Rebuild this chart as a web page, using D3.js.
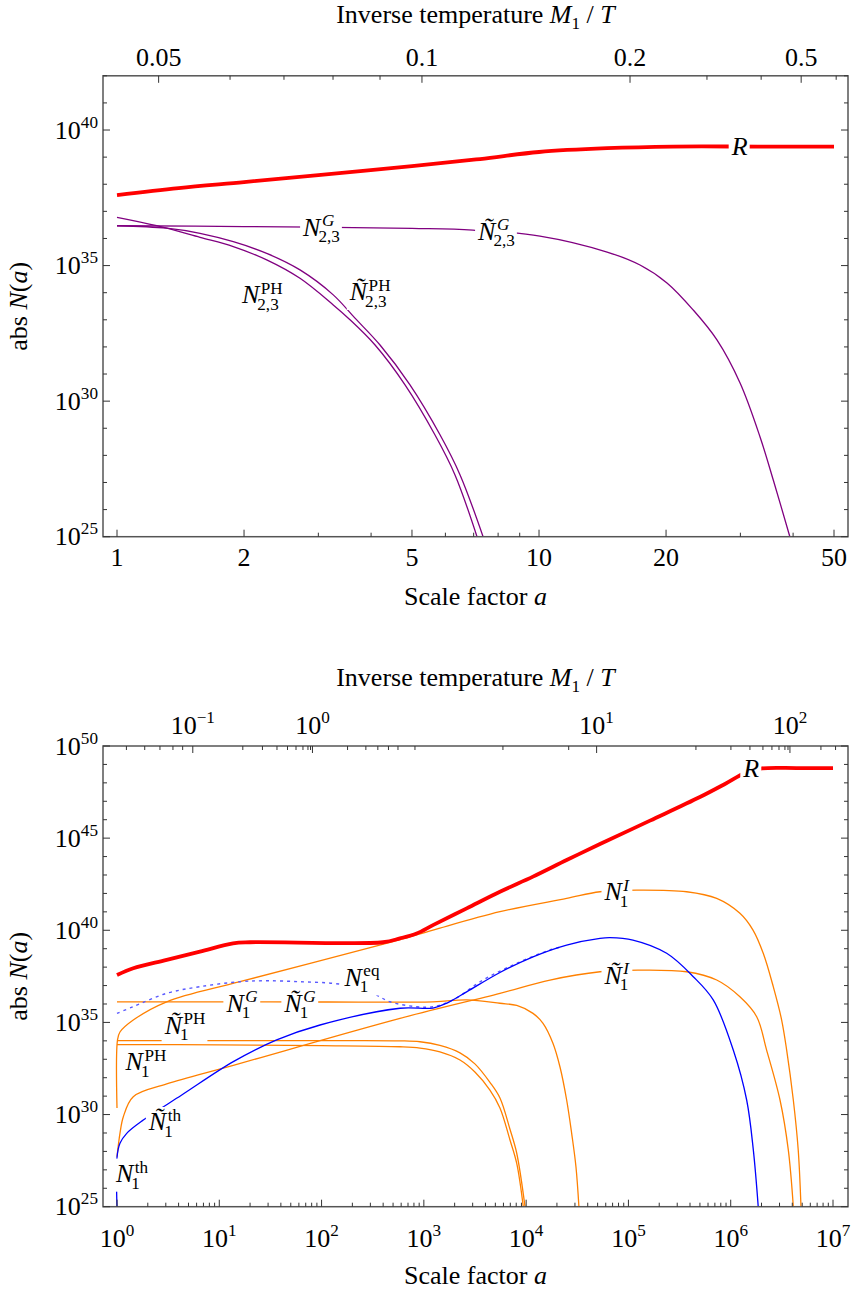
<!DOCTYPE html>
<html><head><meta charset="utf-8">
<script src="https://cdn.jsdelivr.net/npm/d3@7"></script>
<style>
body{margin:0;background:#fff}
svg{display:block}
text{font-family:"Liberation Serif","Times New Roman",serif;fill:#000}
</style></head><body>
<svg id="c" width="852" height="1293"></svg>
<script>
// ================= DATA =================
// ---- Top panel: scale factor a (linear values), log10 of abs N ----
const topR_a      = [1, 1.4, 2, 3, 5, 7.25, 10, 14.5, 20.8, 33, 50];
const topR_logN   = [37.60, 37.86, 38.08, 38.34, 38.67, 38.93, 39.19, 39.33, 39.39, 39.39, 39.39];

const topNG_a     = [1, 2, 5, 6.97, 10.05, 14.5, 17.35, 20.1, 23.2, 26.4, 29.95, 33.4, 35.9, 39.3];
const topNG_logN  = [36.47, 36.44, 36.37, 36.31, 36.09, 35.50, 35.02, 34.36, 33.36, 32.26, 30.67, 28.68, 27.09, 25.0];

const topNPH_a    = [1, 1.242, 1.573, 1.886, 2.263, 2.714, 3.254, 3.533, 4.088, 4.814, 5.670, 6.323, 7.13];
const topNPH_logN = [36.78, 36.47, 36.04, 35.70, 35.21, 34.53, 33.55, 33.06, 32.07, 30.60, 28.75, 27.28, 25.0];

const topNtPH_a    = [1, 1.311, 1.573, 1.886, 2.263, 2.714, 3.254, 3.664, 4.20, 4.946, 5.83, 6.50, 7.37];
const topNtPH_logN = [36.47, 36.38, 36.19, 35.88, 35.45, 34.84, 33.92, 33.06, 32.07, 30.60, 28.75, 27.28, 25.0];

// top-panel upper axis: inverse temperature z = M1/T and the scale factor a where it sits
const topTemp_z     = [0.05, 0.06, 0.07, 0.08, 0.09, 0.1, 0.2, 0.3, 0.4, 0.5, 0.6];
const topTemp_a     = [1.255, 1.853, 2.487, 3.25, 4.20, 5.28, 16.43, 25.0, 33.6, 41.8, 50.6];
const topTemp_label = ["0.05", "", "", "", "", "0.1", "0.2", "", "", "0.5", ""];

const topX_ticks  = [1, 2, 3, 4, 5, 6, 7, 8, 9, 10, 20, 30, 40, 50];
const topX_labels = ["1", "2", "", "", "5", "", "", "", "", "10", "20", "", "", "50"];

// ---- Bottom panel: log10 a, log10 abs N ----
const botR_la     = [0, 0.159, 0.486, 0.811, 1.134, 1.30, 2.60, 2.767, 2.930, 3.089, 3.419, 3.744, 4.067, 4.396, 4.722, 5.211, 5.699, 5.944, 6.139, 6.305, 6.65, 7.0];
const botR_lN     = [37.57, 37.94, 38.39, 38.84, 39.29, 39.35, 39.35, 39.56, 39.83, 40.28, 41.19, 42.09, 42.91, 43.81, 44.68, 45.95, 47.23, 47.94, 48.53, 48.78, 48.80, 48.80];

const botNI_la    = [0, 0.005, 0.029, 0.159, 0.486, 1.202, 2.698, 3.089, 3.744, 4.396, 4.722, 5.080, 5.569, 5.863, 6.090, 6.218, 6.318, 6.416, 6.498, 6.547, 6.612, 6.660, 6.687];
const botNI_lN    = [30.36, 34.05, 34.48, 35.13, 36.12, 37.21, 39.38, 40.01, 41.01, 41.73, 42.09, 42.18, 42.09, 41.73, 40.92, 40.01, 38.75, 36.94, 35.13, 33.50, 30.79, 28.08, 25.0];

const botNtI_la   = [0, 0.029, 0.062, 0.159, 0.486, 1.137, 2.767, 3.744, 4.233, 4.722, 5.093, 5.569, 5.863, 6.090, 6.254, 6.351, 6.482, 6.563, 6.612];
const botNtI_lN   = [27.71, 28.98, 29.88, 30.97, 31.66, 32.67, 35.22, 36.58, 37.30, 37.75, 37.84, 37.75, 37.30, 36.39, 35.31, 33.50, 30.79, 28.08, 25.0];

const botNPH_la   = [0, 1.0, 2.0, 2.767, 2.962, 3.157, 3.353, 3.499, 3.646, 3.744, 3.842, 3.908, 3.989];
const botNPH_lN   = [34.01, 34.01, 34.01, 34.0, 33.95, 33.75, 33.35, 32.75, 31.75, 30.90, 29.20, 27.90, 25.0];

const botNtPH_la  = [0, 1.0, 2.0, 2.767, 2.962, 3.157, 3.353, 3.499, 3.646, 3.744, 3.842, 3.908, 3.972];
const botNtPH_lN  = [33.80, 33.78, 33.74, 33.68, 33.61, 33.40, 32.96, 32.31, 31.33, 30.36, 28.62, 27.35, 25.0];

const botNG_la    = [0, 1.5, 3.089, 3.42, 3.744, 3.908, 4.067, 4.165, 4.262, 4.331, 4.396, 4.445, 4.487, 4.516];
const botNG_lN    = [36.12, 36.12, 36.12, 36.22, 36.04, 35.92, 35.49, 34.95, 33.87, 32.58, 30.79, 28.98, 27.17, 25.0];

const botNth_la   = [0, 0.0005, 0.029, 0.095, 0.257, 0.633, 1.137, 1.561, 1.985, 2.767, 3.089, 3.226, 3.422, 3.744, 4.067, 4.396, 4.722, 4.820, 5.044, 5.374, 5.634, 5.829, 6.025, 6.156, 6.221, 6.269];
const botNth_lN   = [25.0, 27.70, 28.44, 28.98, 29.70, 31.06, 32.87, 34.05, 34.86, 35.77, 35.78, 36.05, 36.67, 37.71, 38.56, 39.20, 39.56, 39.60, 39.47, 38.75, 37.48, 36.22, 33.50, 30.79, 28.08, 25.0];

const botNeq_la   = [0, 0.156, 0.486, 0.811, 1.202, 1.463, 1.789, 2.112, 2.300, 2.503, 2.669, 2.930, 3.089, 3.285, 3.578, 3.908, 4.233, 4.35];
const botNeq_lN   = [35.49, 35.85, 36.58, 36.94, 37.21, 37.26, 37.21, 37.12, 36.95, 36.58, 36.12, 35.85, 35.85, 36.22, 37.30, 38.21, 38.93, 39.10];

// bottom-panel upper axis: z = M1/T and log10 a where it sits
const botTemp_z   = [0.05, 0.06, 0.07, 0.08, 0.09, 0.1, 0.2, 0.3, 0.4, 0.5, 0.6, 0.7, 0.8, 0.9, 1, 2, 3, 4, 5, 6, 7, 8, 9, 10, 20, 30, 40, 50, 60, 70, 80, 90, 100, 200, 300];
const botTemp_la  = [0.092, 0.271, 0.420, 0.547, 0.642, 0.741, 1.230, 1.422, 1.564, 1.667, 1.750, 1.818, 1.867, 1.892, 1.911, 2.254, 2.433, 2.550, 2.654, 2.747, 2.913, 3.773, 4.416, 4.689, 5.660, 6.002, 6.188, 6.315, 6.403, 6.472, 6.530, 6.560, 6.579, 6.882, 7.025];
const botTemp_exp = {0.1: "\u22121", 1: "0", 10: "1", 100: "2"};

const botX_exps   = [0, 1, 2, 3, 4, 5, 6, 7];

// ================= DRAWING =================
const svg = d3.select('#c');
const FS = 26;        // axis text size
const LS = 26;        // curve label size
const FRAME = '#555';
const COL = {red: '#ff0000', purple: '#800080', orange: '#ff8000', blue: '#0000ff', eq: '#5a5aff'};

function measure(str, size, italic) {
  const t = svg.append('text').attr('font-size', size).attr('font-style', italic ? 'italic' : 'normal').text(str);
  const w = t.node().getComputedTextLength(); t.remove(); return w;
}

// curve label like N^{sup}_{sub} (one text element) with white knock-out background
function mathLabel(g, cx, cy, spec, size) {
  const grp = g.append('g');
  const ss = size * 0.66;
  const wBase = measure(spec.base, size, true);
  const wSup = spec.sup ? measure(spec.sup, ss, spec.supIt) : 0;
  const wSub = spec.sub ? measure(spec.sub, ss, false) : 0;
  const total = wBase + Math.max(wSup + 1.5, wSub - 1);
  const x0 = cx - total / 2;
  const base = cy + size * 0.33;
  const t = grp.append('text').attr('x', x0).attr('y', base).attr('font-size', size);
  t.append('tspan').attr('font-style', 'italic').text(spec.base);
  if (spec.sup) t.append('tspan').attr('x', x0 + wBase + 1.5).attr('y', base - size * 0.36)
      .attr('font-size', ss).attr('font-style', spec.supIt ? 'italic' : 'normal').text(spec.sup);
  if (spec.sub) t.append('tspan').attr('x', x0 + wBase - 2).attr('y', base + size * 0.26)
      .attr('font-size', ss).text(spec.sub);
  const bb = grp.node().getBBox();
  grp.insert('rect', ':first-child').attr('x', bb.x - 2).attr('y', bb.y + 1).attr('width', bb.width + 4).attr('height', bb.height - 2)
     .attr('fill', '#fff');
  return grp;
}

function powLabel(g, x, y, exp, anchor, size) {
  const t = g.append('text').attr('x', x).attr('y', y).attr('font-size', size).attr('text-anchor', anchor);
  t.append('tspan').text('10');
  t.append('tspan').attr('font-size', size * 0.66).attr('dy', -size * 0.42).text(exp);
  return t;
}

function titleTop(g, cx, base) {
  const t = g.append('text').attr('x', cx).attr('y', base).attr('font-size', FS).attr('text-anchor', 'middle');
  t.append('tspan').text('Inverse temperature ');
  t.append('tspan').attr('font-style', 'italic').text('M');
  t.append('tspan').attr('font-size', FS * 0.66).attr('dy', FS * 0.22).text('1');
  t.append('tspan').attr('dy', -FS * 0.22).text(' / ');
  t.append('tspan').attr('font-style', 'italic').text('T');
}
function titleBottom(g, cx, base) {
  const t = g.append('text').attr('x', cx).attr('y', base).attr('font-size', FS).attr('text-anchor', 'middle');
  t.append('tspan').text('Scale factor ');
  t.append('tspan').attr('font-style', 'italic').text('a');
}
function titleLeft(g, x, cy) {
  const t = g.append('text').attr('transform', `translate(${x},${cy}) rotate(-90)`).attr('font-size', FS).attr('text-anchor', 'middle');
  t.append('tspan').text('abs ');
  t.append('tspan').attr('font-style', 'italic').text('N');
  t.append('tspan').text('(');
  t.append('tspan').attr('font-style', 'italic').text('a');
  t.append('tspan').text(')');
}

function tickLine(g, x1, y1, x2, y2) {
  g.append('line').attr('x1', x1).attr('y1', y1).attr('x2', x2).attr('y2', y2)
   .attr('stroke', '#333').attr('stroke-width', 1);
}

function drawPanel(P, id) {
  const g = svg.append('g');
  const x = d3.scaleLog().domain(P.xDomain).range(P.xRange);
  const y = d3.scaleLog().domain([1e25, Math.pow(10, P.yMaxExp)]).range([P.b, P.t]);
  g.append('clipPath').attr('id', 'clip' + id).append('rect')
    .attr('x', P.l).attr('y', P.t).attr('width', P.r - P.l).attr('height', P.b - P.t);

  const plot = g.append('g').attr('clip-path', `url(#clip${id})`);
  const line = d3.line().x(d => x(d[0])).y(d => y(d[1])).curve(d3.curveCatmullRom.alpha(0.5));
  P.series.forEach(s => {
    const pts = s.a.map((v, i) => [v, Math.pow(10, s.n[i])]);
    const p = plot.append('path').attr('d', line(pts)).attr('fill', 'none')
      .attr('stroke', s.color).attr('stroke-width', s.width).attr('stroke-linejoin', 'round').attr('stroke-linecap', 'butt');
    if (s.dash) p.attr('stroke-dasharray', s.dash);
  });

  // labels on curves
  const lab = g.append('g');
  P.labels.forEach(L => mathLabel(lab, x(L.a), y(Math.pow(10, L.n)), L.spec, LS));

  // frame
  g.append('rect').attr('x', P.l).attr('y', P.t).attr('width', P.r - P.l).attr('height', P.b - P.t)
    .attr('fill', 'none').attr('stroke', FRAME).attr('stroke-width', 1.5);

  const ax = g.append('g');
  // y ticks (left + right), every decade
  for (let k = 25; k <= P.yMaxExp; k++) {
    const yy = y(Math.pow(10, k));
    const len = (k % 5 === 0) ? 7 : 4;
    tickLine(ax, P.l, yy, P.l + len, yy);
    tickLine(ax, P.r, yy, P.r - len, yy);
    if (k % 5 === 0) powLabel(ax, P.l - 5, yy + FS * 0.33, String(k), 'end', FS);
  }
  // bottom x ticks
  P.xTicks.forEach(t => {
    const xx = x(t.v);
    tickLine(ax, xx, P.b, xx, P.b - (t.major ? 7 : 4));
    if (t.label !== undefined) {
      if (t.pow) powLabel(ax, xx, P.b + 40, t.label, 'middle', FS);
      else ax.append('text').attr('x', xx).attr('y', P.b + 29).attr('font-size', FS).attr('text-anchor', 'middle').text(t.label);
    }
  });
  // top temperature ticks
  P.tTicks.forEach(t => {
    const xx = x(t.a);
    tickLine(ax, xx, P.t, xx, P.t + (t.major ? 7 : 4));
    if (t.label) {
      if (t.pow) powLabel(ax, xx, P.t - 12, t.label, 'middle', FS);
      else ax.append('text').attr('x', xx).attr('y', P.t - 9.5).attr('font-size', FS).attr('text-anchor', 'middle').text(t.label);
    }
  });
  titleTop(g, (P.l + P.r) / 2, P.titleY);
  titleBottom(g, (P.l + P.r) / 2, P.xTitleY);
  titleLeft(g, 27, (P.t + P.b) / 2);
}

// ---------- top panel ----------
const zip = (a, n) => ({a, n});
drawPanel({
  l: 103, r: 848, t: 75.8, b: 536.7,
  xDomain: [1, 50], xRange: [117, 834], yMaxExp: 42,
  titleY: 23, xTitleY: 605,
  series: [
    {...zip(topNPH_a, topNPH_logN), color: COL.purple, width: 1.3},
    {...zip(topNtPH_a, topNtPH_logN), color: COL.purple, width: 1.3},
    {...zip(topNG_a, topNG_logN), color: COL.purple, width: 1.3},
    {...zip(topR_a, topR_logN), color: COL.red, width: 3.8}
  ],
  labels: [
    {a: 30, n: 39.39, spec: {base: 'R'}},
    {a: 3.06, n: 36.42, spec: {base: 'N', sup: 'G', supIt: true, sub: '2,3'}},
    {a: 7.95, n: 36.27, spec: {base: '\u00D1', sup: 'G', supIt: true, sub: '2,3'}},
    {a: 2.21, n: 33.92, spec: {base: 'N', sup: 'PH', sub: '2,3'}},
    {a: 3.98, n: 34.04, spec: {base: '\u00D1', sup: 'PH', sub: '2,3'}}
  ],
  xTicks: topX_ticks.map((v, i) => ({v, major: topX_labels[i] !== "", label: topX_labels[i] || undefined})),
  tTicks: topTemp_z.map((z, i) => ({a: topTemp_a[i], major: topTemp_label[i] !== "", label: topTemp_label[i]}))
}, 'A');

// ---------- bottom panel ----------
const P10 = v => v.map(d => Math.pow(10, d));
const botXTicks = [];
botX_exps.forEach(e => {
  botXTicks.push({v: Math.pow(10, e), major: true, label: String(e), pow: true});
  if (e < 7) for (let m = 2; m <= 9; m++) botXTicks.push({v: m * Math.pow(10, e), major: false});
});
drawPanel({
  l: 103, r: 848, t: 746, b: 1206.7,
  xDomain: [1, 1e7], xRange: [117, 833], yMaxExp: 50,
  titleY: 686, xTitleY: 1284,
  series: [
    {a: P10(botNPH_la), n: botNPH_lN, color: COL.orange, width: 1.3},
    {a: P10(botNtPH_la), n: botNtPH_lN, color: COL.orange, width: 1.3},
    {a: P10(botNG_la), n: botNG_lN, color: COL.orange, width: 1.3},
    {a: P10(botNtI_la), n: botNtI_lN, color: COL.orange, width: 1.3},
    {a: P10(botNI_la), n: botNI_lN, color: COL.orange, width: 1.3},
    {a: P10(botNeq_la), n: botNeq_lN, color: COL.eq, width: 1.4, dash: '3,4'},
    {a: P10(botNth_la), n: botNth_lN, color: COL.blue, width: 1.3},
    {a: P10(botR_la), n: botR_lN, color: COL.red, width: 3.8}
  ],
  labels: [
    {a: Math.pow(10, 6.208), n: 48.80, spec: {base: 'R'}},
    {a: Math.pow(10, 4.888), n: 42.09, spec: {base: 'N', sup: 'I', supIt: true, sub: '1'}},
    {a: Math.pow(10, 4.888), n: 37.57, spec: {base: '\u00D1', sup: 'I', supIt: true, sub: '1'}},
    {a: Math.pow(10, 2.395), n: 37.46, spec: {base: 'N', sup: 'eq', sub: '1'}},
    {a: Math.pow(10, 1.222), n: 36.05, spec: {base: 'N', sup: 'G', supIt: true, sub: '1'}},
    {a: Math.pow(10, 1.789), n: 36.05, spec: {base: '\u00D1', sup: 'G', supIt: true, sub: '1'}},
    {a: Math.pow(10, 0.665), n: 34.86, spec: {base: '\u00D1', sup: 'PH', sub: '1'}},
    {a: Math.pow(10, 0.283), n: 32.87, spec: {base: 'N', sup: 'PH', sub: '1'}},
    {a: Math.pow(10, 0.469), n: 29.61, spec: {base: '\u00D1', sup: 'th', sub: '1'}},
    {a: Math.pow(10, 0.147), n: 26.81, spec: {base: 'N', sup: 'th', sub: '1'}}
  ],
  xTicks: botXTicks,
  tTicks: botTemp_z.map((z, i) => ({a: Math.pow(10, botTemp_la[i]), major: botTemp_exp[z] !== undefined,
                                     label: botTemp_exp[z], pow: true}))
}, 'B');
</script>
</body></html>
